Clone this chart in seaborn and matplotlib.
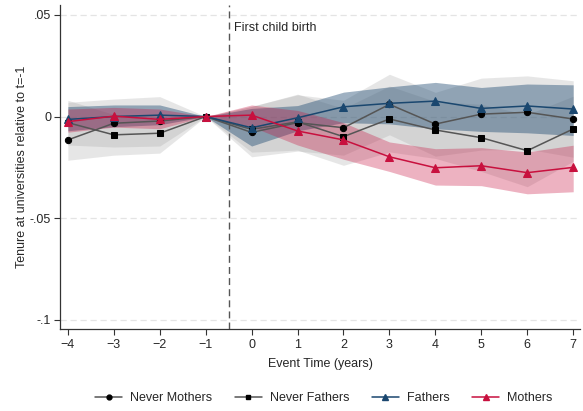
import numpy as np
import pandas as pd
import matplotlib
matplotlib.use("Agg")
import matplotlib.pyplot as plt
from matplotlib.lines import Line2D
import seaborn as sns

# event time (years relative to first child birth)
event_time = [-4, -3, -2, -1, 0, 1, 2, 3, 4, 5, 6, 7]

# point estimates
never_mothers = [-0.0115, -0.0033, -0.0022, 0.0, -0.0078, -0.0030, -0.0055, 0.0060, -0.0037, 0.0012, 0.0021, -0.0012]
never_fathers = [-0.0030, -0.0090, -0.0082, 0.0, -0.0063, -0.0026, -0.0099, -0.0012, -0.0066, -0.0104, -0.0168, -0.0061]
fathers = [-0.0014, 0.0000, 0.0007, 0.0, -0.0055, -0.0006, 0.0048, 0.0065, 0.0076, 0.0040, 0.0052, 0.0037]
mothers = [-0.0025, 0.0002, -0.0014, 0.0, 0.0007, -0.0071, -0.0115, -0.0198, -0.0252, -0.0242, -0.0276, -0.0250]

# confidence bands
never_mothers_lo = [-0.0215, -0.0190, -0.0180, 0.0, -0.0198, -0.0170, -0.0190, -0.0090, -0.0195, -0.0165, -0.0160, -0.0200]
never_mothers_hi = [0.0070, 0.0086, 0.0098, 0.0, 0.0050, 0.0107, 0.0080, 0.0208, 0.0119, 0.0189, 0.0200, 0.0176]
never_fathers_lo = [-0.0140, -0.0150, -0.0145, 0.0, -0.0175, -0.0165, -0.0240, -0.0174, -0.0206, -0.0270, -0.0345, -0.0220]
never_fathers_hi = [0.0080, 0.0010, 0.0000, 0.0, 0.0050, 0.0110, 0.0040, 0.0150, 0.0074, 0.0060, 0.0010, 0.0100]
fathers_lo = [-0.0070, -0.0050, -0.0040, 0.0, -0.0145, -0.0070, -0.0030, -0.0036, -0.0060, -0.0073, -0.0080, -0.0093]
fathers_hi = [0.0049, 0.0057, 0.0057, 0.0, 0.0040, 0.0054, 0.0120, 0.0146, 0.0168, 0.0143, 0.0160, 0.0156]
mothers_lo = [-0.0077, -0.0052, -0.0060, 0.0, -0.0050, -0.0140, -0.0210, -0.0270, -0.0337, -0.0340, -0.0380, -0.0370]
mothers_hi = [0.0037, 0.0045, 0.0037, 0.0, 0.0057, 0.0030, -0.0030, -0.0125, -0.0158, -0.0153, -0.0174, -0.0141]

navy = "#1a476f"
crimson = "#c8103e"
gray_line = "#555555"

sns.set_style("white")
plt.rcParams["font.family"] = ["Liberation Sans", "DejaVu Sans"]

fig = plt.figure(figsize=(5.83, 4.11), dpi=100)
ax = fig.add_axes([0.103, 0.2, 0.892, 0.788])

# bands
ax.fill_between(event_time, never_mothers_lo, never_mothers_hi, color="#9a9a9a", alpha=0.24, lw=0, zorder=1)
ax.fill_between(event_time, never_fathers_lo, never_fathers_hi, color="#9a9a9a", alpha=0.24, lw=0, zorder=1)
ax.fill_between(event_time, fathers_lo, fathers_hi, color=navy, alpha=0.42, lw=0, zorder=2)
ax.fill_between(event_time, mothers_lo, mothers_hi, color=crimson, alpha=0.32, lw=0, zorder=3)

series = [
    ("Never Mothers", never_mothers, gray_line, "black", "o", 4.5),
    ("Never Fathers", never_fathers, gray_line, "black", "s", 4.5),
    ("Fathers", fathers, navy, navy, "^", 5.5),
    ("Mothers", mothers, crimson, crimson, "^", 5.5),
]

for i, (name, vals, lc, mc, mk, ms) in enumerate(series):
    df = pd.DataFrame({"t": event_time, "b": vals})
    sns.lineplot(data=df, x="t", y="b", ax=ax, color=lc, lw=1.1, marker=mk,
                 markersize=ms, markerfacecolor=mc, markeredgecolor=mc,
                 legend=False, zorder=5 + i)

# first child birth marker
ax.axvline(-0.5, color="#555555", lw=1.0, ls=(0, (5, 3)), zorder=4)
ax.text(-0.38, 0.0435, "First child birth", fontsize=9, va="center", ha="left")

ax.set_xlim(-4.17, 7.15)
ax.set_ylim(-0.1044, 0.0549)
ax.set_xticks(event_time)
ax.set_yticks([0.05, 0, -0.05, -0.1])
ax.set_yticklabels([".05", "0", "-.05", "-.1"])
for yv in [0.05, 0, -0.05, -0.1]:
    ax.axhline(yv, color="#e4e4e4", lw=0.9, ls=(0, (5, 3)), zorder=0)

ax.tick_params(axis="both", labelsize=9, length=4, width=0.8, color="#333333",
               direction="out", bottom=True, left=True)
ax.tick_params(axis="y", pad=2.5)
for s in ["top", "right"]:
    ax.spines[s].set_visible(False)
for s in ["left", "bottom"]:
    ax.spines[s].set_color("#333333")
    ax.spines[s].set_linewidth(0.9)

ax.set_xlabel("Event Time (years)", fontsize=9, labelpad=5)
ax.set_ylabel("Tenure at universities relative to t=-1", fontsize=9, labelpad=1)

handles = [Line2D([0], [0], color=lc, lw=1.1, marker=mk, markersize=ms - 1,
                  markerfacecolor=mc, markeredgecolor=mc)
           for name, vals, lc, mc, mk, ms in series]
fig.legend(handles, [s[0] for s in series], loc="center", ncol=4,
           bbox_to_anchor=(0.555, 0.031), frameon=False, fontsize=9,
           handlelength=2.2, handletextpad=0.6, columnspacing=1.8)

fig.savefig("out.png", dpi=100)
